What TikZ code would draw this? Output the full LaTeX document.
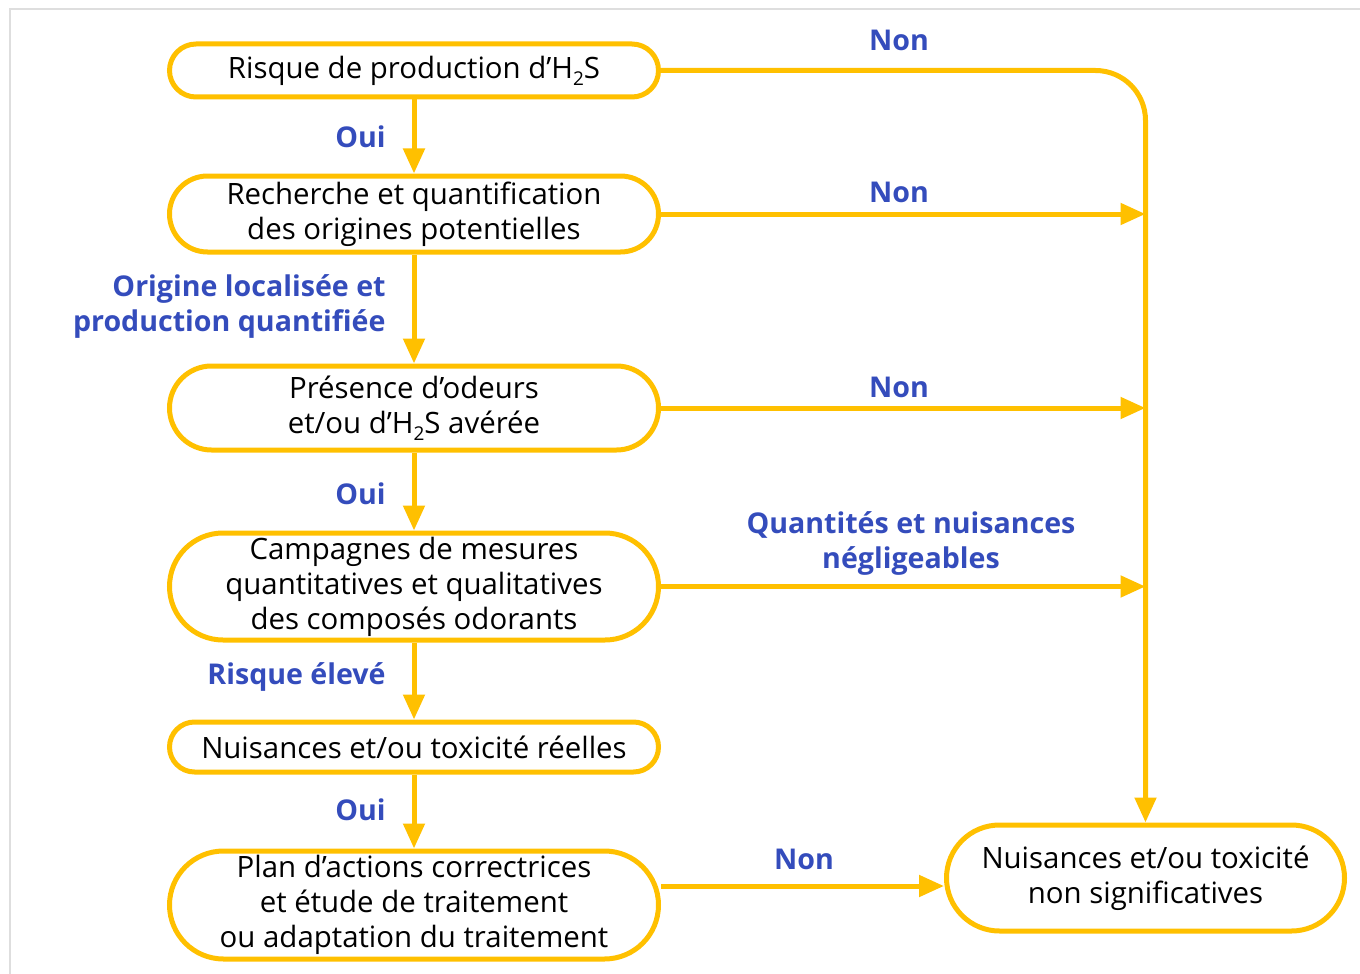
\documentclass[tikz,border=0pt]{standalone}
\usepackage{fontspec}
\setmainfont{Open Sans}
\usepackage{xcolor}
\usepackage{tikz}
\usetikzlibrary{arrows.meta,shapes.misc}
\definecolor{flowyellow}{RGB}{255,192,0}
\definecolor{flowblue}{RGB}{52,76,188}
\definecolor{framegray}{RGB}{222,222,222}
\newcommand\hsub[1]{\raisebox{-0.45ex}{\fontsize{9.5}{9.5}\selectfont #1}}

\begin{document}
\begin{tikzpicture}[x=0.5pt,y=-0.5pt,%
% common options for the boxes:
box/.style = {rounded rectangle, draw=flowyellow, line width=2.5pt, align=center,
            minimum width=244.5pt, inner sep=0, font=\fontsize{14.7}{17.5}\selectfont},
% common options for the answers:
answer/.style = {text=flowblue, align=right, inner sep=0,
            font=\fontsize{14.3}{17.5}\selectfont\bfseries},
% common options for the arrows:
link/.style = {draw=flowyellow, line width=2.5pt, -{Triangle[length=12.5pt,width=10.5pt]}}]
\useasboundingbox (0,0) rectangle (1360,974);
\draw[framegray, line width=0.6pt] (10,974) -- (10,9) -- (1360,9);
\node[box,minimum height=26.5pt] (N1) at (414,70.5) {Risque de production d’H\hsub{2}S};
\node[box,minimum height=38pt] (N2) at (414,214) {Recherche et quantification\\des origines potentielles};
\node[box,minimum height=42pt] (N3) at (414,408) {Présence d’odeurs\\et/ou d’H\hsub{2}S avérée};
\node[box,minimum height=53.5pt] (N4) at (414,586.5) {Campagnes de mesures\\quantitatives et qualitatives\\des composés odorants};
\node[box,minimum height=25pt] (N5) at (414,747) {Nuisances et/ou toxicité réelles};
\node[box,minimum height=54pt] (N6) at (414,905) {Plan d’actions correctrices\\et étude de traitement\\ou adaptation du traitement};
\node[box,minimum height=53pt,minimum width=199pt] (N7) at (1145.5,878) {Nuisances et/ou toxicité\\non significatives};
\node[answer,anchor=east] (O1) at (386,137) {Oui};
\node[answer,anchor=east] (O2) at (386,306) {Origine localisée et\\production quantifiée};
\node[answer,anchor=east] (O3) at (386,494) {Oui};
\node[answer,anchor=east] (O4) at (386,677) {Risque élevé};
\node[answer,anchor=east] (O5) at (386,810) {Oui};
\node[answer] (R1) at (899,40) {Non};
\node[answer] (R2) at (899,192) {Non};
\node[answer] (R3) at (899,387) {Non};
\node[answer,align=center] (R4) at (911,543) {Quantités et nuisances\\négligeables};
\node[answer] (R5) at (804,859) {Non};
\draw[link] (N1.south) to (N2.north);
\draw[link] (N2.south) to (N3.north);
\draw[link] (N3.south) to (N4.north);
\draw[link] (N4.south) to (N5.north);
\draw[link] (N5.south) to (N6.north);
\draw[link,rounded corners=25pt] (N1.east) -| (N7.north);
\draw[link] (N2.east) to (N7.north |- N2.east);
\draw[link] (N3.east) to (N7.north |- N3.east);
\draw[link] (N4.east) to (N7.north |- N4.east);
\draw[link] ([yshift=9.5pt]N6.east) to ([yshift=9.5pt]N6.east -| N7.west);
\end{tikzpicture}
\end{document}
